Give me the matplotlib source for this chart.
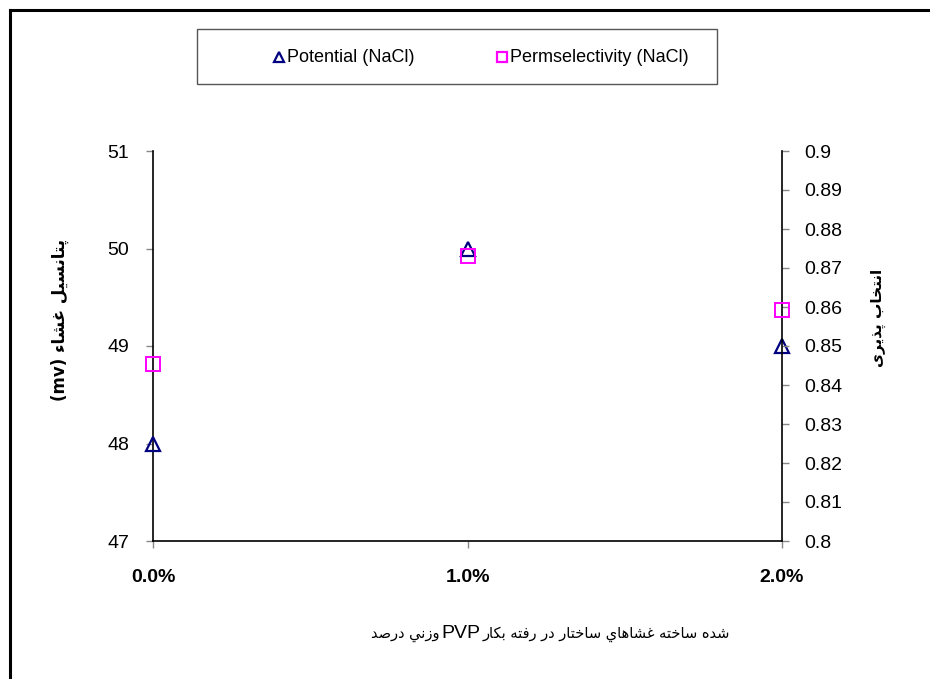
import matplotlib
matplotlib.use("Agg")
import matplotlib.pyplot as plt
from matplotlib.lines import Line2D
from matplotlib.patches import Rectangle

# ---- data ----
categories = ["0.0%", "1.0%", "2.0%"]
potential = [48.0, 50.0, 49.0]
permselectivity = [0.8455, 0.8731, 0.8593]
left_ticks = [47, 48, 49, 50, 51]
right_ticks = [0.8, 0.81, 0.82, 0.83, 0.84, 0.85, 0.86, 0.87, 0.88, 0.89, 0.9]
right_tick_labels = ["0.8", "0.81", "0.82", "0.83", "0.84", "0.85", "0.86", "0.87", "0.88", "0.89", "0.9"]
series_names = ["Potential (NaCl)", "Permselectivity (NaCl)"]
ylabel_left = "پتانسیل غشاء"
ylabel_left_unit = "(mv)"
ylabel_right = "انتخاب پذیری"
xlabel_words_a = ["درصد", "وزني"]
xlabel_mid = "PVP"
xlabel_words_b = ["بكار", "رفته", "در", "ساختار", "غشاهاي", "ساخته", "شده"]

# ---- minimal Arabic/Persian shaping (presentation forms, visual order) ----
FORMS = {
    'ا': (0xFE8D, 0xFE8E, None, None),
    'ب': (0xFE8F, 0xFE90, 0xFE91, 0xFE92),
    'پ': (0xFB56, 0xFB57, 0xFB58, 0xFB59),
    'ت': (0xFE95, 0xFE96, 0xFE97, 0xFE98),
    'خ': (0xFEA5, 0xFEA6, 0xFEA7, 0xFEA8),
    'د': (0xFEA9, 0xFEAA, None, None),
    'ذ': (0xFEAB, 0xFEAC, None, None),
    'ر': (0xFEAD, 0xFEAE, None, None),
    'ز': (0xFEAF, 0xFEB0, None, None),
    'س': (0xFEB1, 0xFEB2, 0xFEB3, 0xFEB4),
    'ش': (0xFEB5, 0xFEB6, 0xFEB7, 0xFEB8),
    'ص': (0xFEB9, 0xFEBA, 0xFEBB, 0xFEBC),
    'غ': (0xFECD, 0xFECE, 0xFECF, 0xFED0),
    'ف': (0xFED1, 0xFED2, 0xFED3, 0xFED4),
    'ک': (0xFB8E, 0xFB8F, 0xFB90, 0xFB91),
    'ك': (0xFED9, 0xFEDA, 0xFEDB, 0xFEDC),
    'ل': (0xFEDD, 0xFEDE, 0xFEDF, 0xFEE0),
    'ن': (0xFEE5, 0xFEE6, 0xFEE7, 0xFEE8),
    'ه': (0xFEE9, 0xFEEA, 0xFEEB, 0xFEEC),
    'و': (0xFEED, 0xFEEE, None, None),
    'ي': (0xFEF1, 0xFEF2, 0xFEF3, 0xFEF4),
    'ی': (0xFBFC, 0xFBFD, 0xFBFE, 0xFBFF),
    'ء': (0xFE80, None, None, None),
}


def shape_word(w):
    out = []
    n = len(w)
    for i, ch in enumerate(w):
        f = FORMS.get(ch)
        if f is None:
            out.append(ch)
            continue
        prev = FORMS.get(w[i - 1]) if i > 0 else None
        nxt = FORMS.get(w[i + 1]) if i < n - 1 else None
        join_prev = prev is not None and prev[2] is not None and f[1] is not None
        join_next = nxt is not None and f[2] is not None and nxt[1] is not None
        if join_prev and join_next:
            cp = f[3]
        elif join_prev:
            cp = f[1]
        elif join_next:
            cp = f[2]
        else:
            cp = f[0]
        out.append(chr(cp))
    return "".join(reversed(out))


def rtl(text):
    return " ".join(shape_word(w) for w in reversed(text.split(" ")))


plt.rcParams['font.family'] = ['Liberation Sans', 'DejaVu Sans']
AR = ['DejaVu Sans']

fig = plt.figure(figsize=(9.3, 6.79), dpi=100)
ax = fig.add_axes([153 / 930, 1 - 541 / 679, (782 - 153) / 930, (541 - 151) / 679])
ax2 = ax.twinx()

x = list(range(len(categories)))
navy = "#000080"
magenta = "#FF00FF"
ax.plot(x, potential, linestyle="none", marker="^", markersize=10, markerfacecolor="none",
        markeredgecolor=navy, markeredgewidth=1.6, clip_on=False, zorder=5)
ax2.plot(x, permselectivity, linestyle="none", marker="s", markersize=10, markerfacecolor="none",
         markeredgecolor=magenta, markeredgewidth=1.4, clip_on=False, zorder=5)

ax.set_xlim(0, 2)
ax.set_ylim(47, 51)
ax2.set_ylim(0.8, 0.9)
ax.set_xticks(x)
ax.set_xticklabels(categories, fontsize=14, fontweight="bold")
ax.set_yticks(left_ticks)
ax.set_yticklabels([str(t) for t in left_ticks], fontsize=14)
ax2.set_yticks(right_ticks)
ax2.set_yticklabels(right_tick_labels, fontsize=14)

for a in (ax, ax2):
    a.spines['top'].set_visible(False)
    for s in a.spines.values():
        s.set_linewidth(1.2)
        s.set_color("black")
ax.spines['right'].set_visible(False)
ax2.spines['left'].set_visible(False)
ax2.spines['bottom'].set_visible(False)
ax.tick_params(axis='y', direction='out', length=5, width=1, color="#888888", pad=12)
ax.tick_params(axis='x', direction='out', length=5, width=1, color="#888888", pad=15)
ax2.tick_params(axis='y', direction='out', length=5, width=1, color="#888888", pad=11)

# axis titles (visual order, shaped)
fig.text(60 / 930, 1 - 320 / 679, ylabel_left_unit + " " + rtl(ylabel_left), rotation=90,
         ha="center", va="center", fontsize=12, fontweight="bold", family=AR)
fig.text(878 / 930, 1 - 318 / 679, rtl(ylabel_right), rotation=90,
         ha="center", va="center", fontsize=11, fontweight="bold", family=AR)

# x title (word order left-to-right, as in the reference)
ymid = 1 - 634 / 679
pvp_x = 461 / 930
fig.text(pvp_x, ymid, xlabel_mid, ha="center", va="center", fontsize=14)
fig.text(pvp_x - 22 / 930, ymid, " ".join(shape_word(w) for w in xlabel_words_a),
         ha="right", va="center", fontsize=10.5, family=AR)
fig.text(pvp_x + 22 / 930, ymid, " ".join(shape_word(w) for w in xlabel_words_b),
         ha="left", va="center", fontsize=10.5, family=AR)

# legend box
fig.patches.append(Rectangle((197 / 930, 1 - 84 / 679), (717 - 197) / 930, (84 - 29) / 679,
                             transform=fig.transFigure, facecolor="white", edgecolor="#555555",
                             linewidth=1.0, zorder=1))
leg_y = 1 - 57 / 679
leg_marker_x = [279 / 930, 502 / 930]
leg_text_x = [287 / 930, 510 / 930]
leg_markers = ["^", "s"]
leg_colors = [navy, magenta]
for mx, tx, mk, c, name in zip(leg_marker_x, leg_text_x, leg_markers, leg_colors, series_names):
    fig.add_artist(Line2D([mx], [leg_y], transform=fig.transFigure, linestyle="none", marker=mk,
                          markersize=7, markerfacecolor="none", markeredgecolor=c,
                          markeredgewidth=1.6))
    fig.text(tx, leg_y, name, ha="left", va="center", fontsize=13)

# figure border (top & left, as in the cropped reference)
fig.add_artist(Line2D([10 / 930, 10 / 930], [0, 1 - 10 / 679], transform=fig.transFigure,
                      color="black", linewidth=2.2))
fig.add_artist(Line2D([10 / 930, 1], [1 - 10 / 679, 1 - 10 / 679], transform=fig.transFigure,
                      color="black", linewidth=2.2))

fig.savefig("out.png", dpi=100)
